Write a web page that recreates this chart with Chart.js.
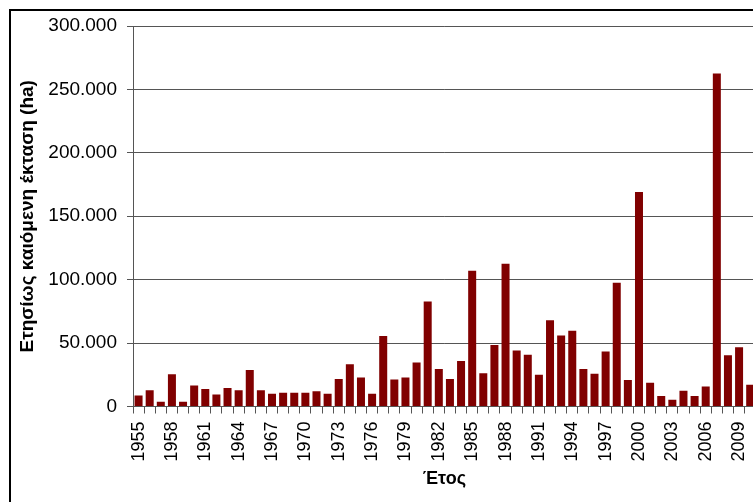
<!DOCTYPE html>
<html>
<head>
<meta charset="utf-8">
<script src="https://cdn.jsdelivr.net/npm/chart.js@4/dist/chart.umd.min.js"></script>
<style>
  html, body { margin: 0; padding: 0; background: #fff; overflow: hidden; width: 753px; height: 502px; }
  #frame { position: absolute; left: 9px; top: 9px; width: 900px; height: 600px; border-top: 2px solid #000; border-left: 2px solid #000; }
  #wrap { position: absolute; left: 0; top: 0; width: 780px; height: 502px; }
</style>
</head>
<body>
<div id="frame"></div>
<div id="wrap"><canvas id="c" width="780" height="502"></canvas></div>
<script>
const years = ['1955','1956','1957','1958','1959','1960','1961','1962','1963','1964',
  '1965','1966','1967','1968','1969','1970','1971','1972','1973','1974',
  '1975','1976','1977','1978','1979','1980','1981','1982','1983','1984',
  '1985','1986','1987','1988','1989','1990','1991','1992','1993','1994',
  '1995','1996','1997','1998','1999','2000','2001','2002','2003','2004',
  '2005','2006','2007','2008','2009','2010'];

const burnedArea = [8700, 12900, 3700, 25500, 3700, 16600, 13700, 9500, 14500, 12900,
  28700, 12900, 10000, 10800, 10800, 10800, 12100, 10000, 21600, 33400,
  22900, 10000, 55500, 21300, 22900, 34700, 82800, 29500, 21600, 35800,
  107000, 26300, 48400, 112500, 44200, 40800, 25000, 68100, 56000, 59700,
  29500, 25800, 43400, 97500, 20800, 169100, 18700, 8200, 5300, 12400,
  8200, 15800, 262600, 40500, 46800, 17100];

const xTickLabels = ['1955','1958','1961','1964','1967','1970','1973','1976','1979','1982',
  '1985','1988','1991','1994','1997','2000','2003','2006','2009'];

const yTickValues = [0, 50000, 100000, 150000, 200000, 250000, 300000];

const yTitle = 'Ετησίως καιόμενη έκταση (ha)';
const xTitle = 'Έτος';

function fmt(v) {
  return String(v).replace(/\B(?=(\d{3})+(?!\d))/g, '.');
}

new Chart(document.getElementById('c'), {
  type: 'bar',
  data: {
    labels: years,
    datasets: [{
      data: burnedArea,
      backgroundColor: '#800000',
      borderWidth: 0,
      barPercentage: 0.72,
      categoryPercentage: 1.0
    }]
  },
  options: {
    responsive: false,
    animation: false,
    plugins: { legend: { display: false }, tooltip: { enabled: false } },
    layout: { padding: { left: 16, top: 26, right: 23, bottom: 0 } },
    scales: {
      x: {
        offset: true,
        grid: { display: true, drawOnChartArea: false, drawTicks: true, tickLength: 7, color: '#555', offset: true },
        border: { display: true, color: '#555', width: 1 },
        ticks: {
          autoSkip: false,
          minRotation: 90,
          maxRotation: 90,
          padding: 8,
          color: '#000',
          font: { family: 'Liberation Sans, Arial, sans-serif', size: 18 },
          callback: function(val, idx) {
            const l = this.getLabelForValue(val);
            return xTickLabels.includes(l) ? l : '';
          }
        },
        title: {
          display: true, text: xTitle, color: '#000',
          font: { family: 'Liberation Sans, Arial, sans-serif', size: 18, weight: 'bold' },
          padding: { top: 4, bottom: 12 }
        },
        afterFit: function(s) { s.height = 95.5; }
      },
      y: {
        min: 0, max: 300000,
        afterBuildTicks: function(s) { s.ticks = yTickValues.map(v => ({ value: v })); },
        grid: { color: '#555', lineWidth: 1, drawTicks: true, tickLength: 6 },
        border: { display: true, color: '#555', width: 1 },
        ticks: {
          padding: 10,
          color: '#000',
          font: { family: 'Liberation Sans, Arial, sans-serif', size: 19 },
          callback: function(v) { return fmt(v); }
        },
        title: {
          display: true, text: yTitle, color: '#000',
          font: { family: 'Liberation Sans, Arial, sans-serif', size: 19, weight: 'bold' },
          padding: { top: 0, bottom: 0 }
        },
        afterFit: function(s) { s.width = 117; }
      }
    }
  }
});
</script>
</body>
</html>
